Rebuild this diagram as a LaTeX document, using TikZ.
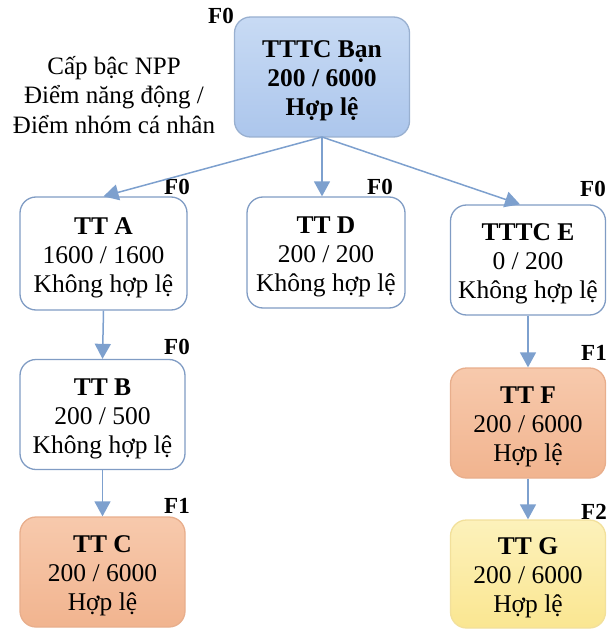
\documentclass[tikz,border=0pt]{standalone}
\usepackage{fontspec}
\setmainfont{Liberation Serif}
\usetikzlibrary{arrows.meta,positioning}
\definecolor{arr}{RGB}{125,160,206}
\definecolor{bdr}{RGB}{128,156,196}
\definecolor{topfill}{RGB}{190,212,242}
\definecolor{topfillb}{RGB}{172,198,236}
\definecolor{orfill}{RGB}{246,192,158}
\definecolor{orfillb}{RGB}{241,180,143}
\definecolor{orbdr}{RGB}{232,174,140}
\definecolor{yefill}{RGB}{252,238,170}
\definecolor{yefillb}{RGB}{250,230,145}
\definecolor{yebdr}{RGB}{242,224,155}
\newcommand{\up}{\rule{0pt}{25pt}}
\tikzset{
  box/.style={rounded corners=16pt, minimum height=112pt, align=center,
    font=\fontsize{25.5}{29}\selectfont, line width=1.3pt, inner sep=0pt},
  whitebox/.style={box, draw=bdr, fill=white},
  topbox/.style={box, draw=bdr!80, top color=topfill!85, bottom color=topfillb},
  orbox/.style={box, draw=orbdr, top color=orfill!85, bottom color=orfillb},
  yebox/.style={box, draw=yebdr, top color=yefill!80, bottom color=yefillb},
  flabel/.style={font=\fontsize{23}{24}\selectfont\bfseries, inner sep=0pt},
  conn/.style={draw=arr, line width=1.5pt, -{Triangle[width=16pt,length=15pt,fill=arr]}},
}
\begin{document}
\begin{tikzpicture}[x=1pt,y=1pt]
\useasboundingbox (0,0) rectangle (609,-631);
% top box
\node[topbox, minimum width=175pt, minimum height=120pt] (top) at (322,-77)
  {\up\textbf{TTTC Bạn}\\\textbf{200 / 6000}\\\textbf{Hợp lệ}};
\node[flabel] (ftop) at (221,-16) {F0};
\node[align=center, font=\fontsize{25}{29.5}\selectfont, inner sep=0pt] (legend) at (114,-95)
  {Cấp bậc NPP\\Điểm năng động /\\Điểm nhóm cá nhân};
% level 1
\node[whitebox, minimum width=167pt, minimum height=113pt] (A) at (103.5,-253.5)
  {\up\textbf{TT A}\\1600 / 1600\\Không hợp lệ};
\node[whitebox, minimum width=158pt, minimum height=111pt] (D) at (326,-252.5)
  {\up\textbf{TT D}\\200 / 200\\Không hợp lệ};
\node[whitebox, minimum width=155pt, minimum height=110pt] (E) at (528,-260)
  {\up\textbf{TTTC E}\\0 / 200\\Không hợp lệ};
\node[flabel] (fA) at (177,-187) {F0};
\node[flabel] (fD) at (380,-187) {F0};
\node[flabel] (fE) at (593,-189) {F0};
% level 2
\node[whitebox, minimum width=165pt, minimum height=110pt] (B) at (102.5,-414.5)
  {\up\textbf{TT B}\\200 / 500\\Không hợp lệ};
\node[orbox, minimum width=165pt, minimum height=110pt] (C) at (102.5,-572)
  {\up\textbf{TT C}\\200 / 6000\\Hợp lệ};
\node[orbox, minimum width=155pt, minimum height=110pt] (F) at (528,-423)
  {\up\textbf{TT F}\\200 / 6000\\Hợp lệ};
\node[yebox, minimum width=155pt, minimum height=108pt] (G) at (528,-574)
  {\up\textbf{TT G}\\200 / 6000\\Hợp lệ};
\node[flabel] (fB) at (177,-347) {F0};
\node[flabel] (fC) at (177,-506) {F1};
\node[flabel] (fF) at (594,-353) {F1};
\node[flabel] (fG) at (594,-512) {F2};
% connectors
\coordinate (tb) at (322,-137);
\draw[conn] (tb) -- (A.north);
\draw[conn] (tb) -- (tb |- D.north);
\draw[conn] (tb) -- (E.north -| 520,0);
\draw[conn] (A.south) -- (B.north);
\draw[conn] (B.south) -- (C.north);
\draw[conn] (E.south) -- (F.north);
\draw[conn] (F.south) -- (G.north);
\end{tikzpicture}
\end{document}
